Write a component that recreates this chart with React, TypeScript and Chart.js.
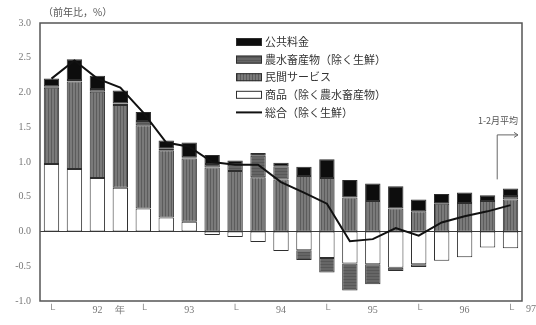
import React, { useEffect, useRef } from "react";
import { Chart, registerables } from "chart.js";

Chart.register(...registerables);

// Quarters 1992 Q1 … 1996 Q4, then 1997 Jan–Feb average
const categories = [
  "92Q1", "92Q2", "92Q3", "92Q4",
  "93Q1", "93Q2", "93Q3", "93Q4",
  "94Q1", "94Q2", "94Q3", "94Q4",
  "95Q1", "95Q2", "95Q3", "95Q4",
  "96Q1", "96Q2", "96Q3", "96Q4",
  "97Jan-Feb",
];
const tickLabels = [
  "└", "", "92", "年", "└", "", "93", "", "└", "", "94", "",
  "└", "", "95", "", "└", "", "96", "", "└",
];
const extraYearLabel = "97";

const seriesNames = [
  "公共料金",
  "農水畜産物（除く生鮮）",
  "民間サービス",
  "商品（除く農水畜産物）",
  "総合（除く生鮮）",
];

// 商品（除く農水畜産物）
const goods = [0.97, 0.90, 0.77, 0.63, 0.33, 0.20, 0.14, -0.05, -0.08, -0.15, -0.28, -0.27, -0.38, -0.46, -0.47, -0.52, -0.47, -0.42, -0.37, -0.23, -0.24];
// 民間サービス
const services = [1.10, 1.26, 1.24, 1.19, 1.20, 0.97, 0.91, 0.92, 0.87, 0.78, 0.75, 0.80, 0.77, 0.49, 0.44, 0.33, 0.29, 0.40, 0.41, 0.44, 0.46];
// 農水畜産物（除く生鮮）
const agri = [0.02, 0.02, 0.04, 0.02, 0.06, 0.02, 0.02, 0.05, 0.09, 0.31, 0.19, -0.14, -0.21, -0.39, -0.29, -0.05, -0.04, 0, 0, 0, 0.05];
// 公共料金
const publicFees = [0.11, 0.30, 0.19, 0.19, 0.13, 0.12, 0.21, 0.13, 0.06, 0.04, 0.05, 0.13, 0.27, 0.25, 0.25, 0.32, 0.17, 0.14, 0.15, 0.08, 0.11];
// 総合（除く生鮮）
const total = [2.20, 2.46, 2.20, 2.07, 1.71, 1.28, 1.22, 1.00, 0.96, 0.96, 0.71, 0.56, 0.40, -0.14, -0.11, 0.05, -0.06, 0.13, 0.22, 0.29, 0.38];

const yTicks = { min: -1, max: 3, step: 0.5 };

const CJK = '"Noto Sans CJK JP", "Noto Sans", sans-serif';
const SERIF = '"Liberation Serif", "DejaVu Serif", serif';

export default function App() {
  const ref = useRef<HTMLCanvasElement | null>(null);

  useEffect(() => {
    document.body.style.margin = "0";
    const canvas = ref.current!;
    const ctx0 = canvas.getContext("2d")!;

    const stripe = (bg: string, fg: string, vertical: boolean) => {
      const c = document.createElement("canvas");
      c.width = 3;
      c.height = 3;
      const g = c.getContext("2d")!;
      g.fillStyle = bg;
      g.fillRect(0, 0, 3, 3);
      g.fillStyle = fg;
      if (vertical) g.fillRect(0, 0, 1, 3);
      else g.fillRect(0, 0, 3, 1);
      return ctx0.createPattern(c, "repeat") as CanvasPattern;
    };

    const fillPublic = "#0d0d0d";
    const fillAgri = stripe("#666666", "#575757", false);
    const fillServices = stripe("#7a7a7a", "#5c5c5c", true);
    const fillGoods = "#ffffff";
    const edge = "#2e2e2e";

    const decor = {
      id: "decor",
      beforeDatasetsDraw(chart: any) {
        const { ctx, chartArea: a, scales } = chart;
        const y0 = scales.y.getPixelForValue(0);
        ctx.save();
        ctx.strokeStyle = "#3a3a3a";
        ctx.lineWidth = 1.2;
        ctx.beginPath();
        ctx.moveTo(a.left, y0);
        ctx.lineTo(a.right, y0);
        ctx.stroke();
        ctx.restore();
      },
      afterDraw(chart: any) {
        const { ctx, chartArea: a, scales } = chart;
        const xs = scales.x;
        const ys = scales.y;
        ctx.save();
        // frame
        ctx.strokeStyle = "#555";
        ctx.lineWidth = 1.5;
        ctx.strokeRect(a.left, a.top, a.right - a.left, a.bottom - a.top);

        // unit title
        ctx.fillStyle = "#555";
        ctx.font = `10px ${CJK}`;
        ctx.textAlign = "left";
        ctx.textBaseline = "middle";
        ctx.fillText("（前年比，%）", a.left + 3, a.top - 11);

        // legend
        const fills = [fillPublic, fillAgri, fillServices, fillGoods];
        const lx = 236;
        const ly = a.top + 19;
        const step = 17.6;
        ctx.font = `11px ${CJK}`;
        seriesNames.forEach((name, i) => {
          const cy = ly + i * step;
          if (i < 4) {
            ctx.fillStyle = fills[i];
            ctx.fillRect(lx, cy - 4, 26, 8);
            ctx.strokeStyle = edge;
            ctx.lineWidth = 1;
            ctx.strokeRect(lx + 0.5, cy - 3.5, 25, 7);
          } else {
            ctx.strokeStyle = "#111";
            ctx.lineWidth = 2;
            ctx.beginPath();
            ctx.moveTo(lx, cy);
            ctx.lineTo(lx + 26, cy);
            ctx.stroke();
          }
          ctx.fillStyle = "#333";
          ctx.textAlign = "left";
          ctx.textBaseline = "middle";
          ctx.fillText(name, lx + 29, cy);
        });

        // 1-2月平均 annotation with arrow
        const ax = xs.getPixelForValue(19.42);
        const yb = ys.getPixelForValue(0.75);
        const yt = ys.getPixelForValue(1.39);
        const xe = a.right - 4;
        ctx.strokeStyle = "#666";
        ctx.lineWidth = 1;
        ctx.beginPath();
        ctx.moveTo(ax, yb);
        ctx.lineTo(ax, yt);
        ctx.lineTo(xe, yt);
        ctx.stroke();
        ctx.beginPath();
        ctx.moveTo(xe - 4, yt - 2.5);
        ctx.lineTo(xe, yt);
        ctx.lineTo(xe - 4, yt + 2.5);
        ctx.stroke();
        ctx.fillStyle = "#555";
        ctx.font = `9px ${CJK}`;
        ctx.textAlign = "right";
        ctx.textBaseline = "middle";
        ctx.fillText("1-2月平均", a.right - 4, ys.getPixelForValue(1.6));

        // year label beyond the last category
        ctx.fillStyle = "#777";
        ctx.font = `10px ${SERIF}`;
        ctx.textAlign = "left";
        ctx.textBaseline = "top";
        ctx.fillText(extraYearLabel, a.right + 4, a.bottom + 3);
        ctx.restore();
      },
    };

    const barCommon = {
      type: "bar" as const,
      stack: "bars",
      borderColor: edge,
      borderWidth: 1,
      borderSkipped: false,
      categoryPercentage: 1,
      barPercentage: 0.67,
      order: 1,
    };

    const chart = new Chart(canvas, {
      type: "bar",
      data: {
        labels: categories,
        datasets: [
          { ...barCommon, label: seriesNames[3], data: goods, backgroundColor: fillGoods },
          { ...barCommon, label: seriesNames[2], data: services, backgroundColor: fillServices },
          { ...barCommon, label: seriesNames[1], data: agri, backgroundColor: fillAgri },
          { ...barCommon, label: seriesNames[0], data: publicFees, backgroundColor: fillPublic },
          {
            type: "line",
            label: seriesNames[4],
            data: total,
            stack: "line",
            borderColor: "#111",
            borderWidth: 2,
            pointRadius: 0,
            tension: 0,
            fill: false,
            order: 0,
          } as any,
        ],
      },
      options: {
        responsive: false,
        animation: false,
        layout: { padding: { top: 23, right: 14, left: 0, bottom: 0 } },
        plugins: { legend: { display: false }, tooltip: { enabled: false } },
        scales: {
          x: {
            stacked: true,
            offset: true,
            grid: { display: false, drawTicks: false },
            border: { display: false },
            ticks: {
              autoSkip: false,
              maxRotation: 0,
              padding: 3,
              color: "#777",
              font: { family: SERIF, size: 10 },
              callback: (_v: any, i: number) => tickLabels[i],
            },
            afterFit: (s: any) => {
              s.height = 24;
            },
          },
          y: {
            stacked: true,
            min: yTicks.min,
            max: yTicks.max,
            grid: { display: false, drawTicks: false },
            border: { display: false },
            ticks: {
              stepSize: yTicks.step,
              padding: 9,
              color: "#777",
              font: { family: SERIF, size: 10 },
              callback: (v: any) => Number(v).toFixed(1),
            },
            afterFit: (s: any) => {
              s.width = 40;
            },
          },
        },
      },
      plugins: [decor],
    });

    return () => chart.destroy();
  }, []);

  return (
    <div style={{ width: 536, height: 325, background: "#fff" }}>
      <canvas ref={ref} width={536} height={325} />
    </div>
  );
}
